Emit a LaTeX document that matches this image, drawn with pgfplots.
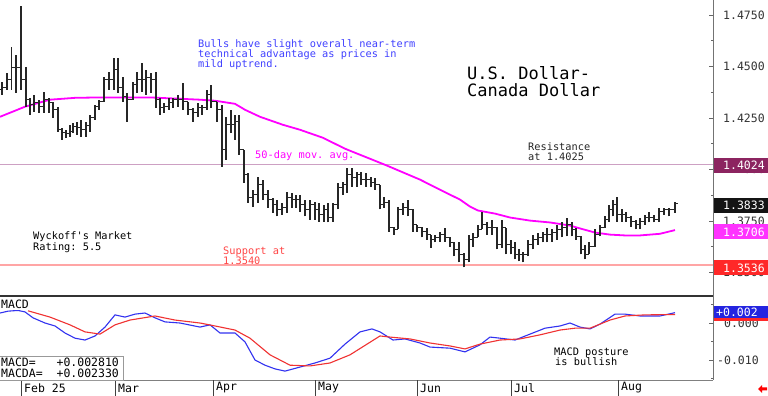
\documentclass[border=0pt]{standalone}
\usepackage{fontspec}
\setmonofont{DejaVu Sans Mono}
\renewcommand{\familydefault}{\ttdefault}
\usepackage{pgfplots}
\usepackage{pgfplotstable}
\pgfplotsset{compat=1.18}
\definecolor{annblue}{RGB}{64,64,255}
\definecolor{mamag}{RGB}{255,0,255}
\definecolor{resline}{RGB}{205,160,195}
\definecolor{supline}{RGB}{255,165,165}
\definecolor{boxmaroon}{RGB}{140,36,96}
\definecolor{boxmag}{RGB}{255,51,255}
\definecolor{boxred}{RGB}{255,40,40}
\definecolor{boxblue}{RGB}{36,36,224}
\definecolor{macdblue}{RGB}{50,50,240}
\definecolor{macdred}{RGB}{240,50,50}
\definecolor{supred}{RGB}{255,70,70}
\newcommand{\fA}{\fontsize{10.3}{12}\selectfont}
\newcommand{\fB}{\fontsize{11.5}{13}\selectfont}
\newcommand{\fT}{\fontsize{17}{20}\selectfont}
\pgfdeclareplotmark{openT}{\pgfpathmoveto{\pgfqpoint{-2.6pt}{0pt}}\pgfpathlineto{\pgfqpoint{0pt}{0pt}}\pgfusepathqstroke}
\pgfdeclareplotmark{closeT}{\pgfpathmoveto{\pgfqpoint{0pt}{0pt}}\pgfpathlineto{\pgfqpoint{2.6pt}{0pt}}\pgfusepathqstroke}

\pgfplotstableread{
x o h l c
2 1.4387 1.4426 1.4363 1.4397
7 1.4397 1.4469 1.4387 1.4435
11.5 1.4435 1.4595 1.4387 1.4494
16 1.4494 1.4557 1.4372 1.4494
21 1.4494 1.4794 1.4387 1.4435
26 1.4435 1.4498 1.4305 1.4339
30 1.4339 1.4348 1.4266 1.4314
34 1.4314 1.4363 1.4280 1.4324
39 1.4324 1.4339 1.4276 1.4305
44 1.4305 1.4377 1.4276 1.4339
49 1.4339 1.4348 1.4276 1.4324
53 1.4324 1.4329 1.4251 1.4290
58 1.4290 1.4305 1.4183 1.4193
62 1.4193 1.4203 1.4145 1.4179
66 1.4179 1.4193 1.4154 1.4174
70 1.4174 1.4217 1.4159 1.4183
73 1.4183 1.4227 1.4179 1.4208
77 1.4208 1.4232 1.4169 1.4203
81 1.4203 1.4242 1.4159 1.4193
86 1.4193 1.4232 1.4159 1.4213
90 1.4213 1.4266 1.4183 1.4251
95 1.4251 1.4314 1.4242 1.4305
99 1.4305 1.4339 1.4290 1.4329
104 1.4329 1.4450 1.4329 1.4435
109 1.4435 1.4474 1.4387 1.4435
114 1.4435 1.4542 1.4387 1.4484
118 1.4484 1.4542 1.4372 1.4397
123 1.4397 1.4450 1.4329 1.4353
127 1.4353 1.4372 1.4232 1.4339
133 1.4339 1.4426 1.4339 1.4411
137 1.4411 1.4474 1.4372 1.4435
142 1.4435 1.4518 1.4377 1.4435
146 1.4435 1.4484 1.4363 1.4445
151 1.4445 1.4469 1.4372 1.4435
156 1.4435 1.4474 1.4300 1.4339
160 1.4339 1.4348 1.4266 1.4300
164 1.4300 1.4324 1.4276 1.4305
169 1.4305 1.4348 1.4290 1.4324
173 1.4324 1.4348 1.4300 1.4339
178 1.4339 1.4363 1.4305 1.4339
183 1.4339 1.4421 1.4290 1.4329
188 1.4329 1.4329 1.4266 1.4290
193 1.4290 1.4300 1.4232 1.4276
198 1.4276 1.4324 1.4256 1.4300
202 1.4300 1.4314 1.4266 1.4300
207 1.4300 1.4387 1.4290 1.4363
211 1.4363 1.4411 1.4300 1.4329
217 1.4329 1.4329 1.4232 1.4290
222 1.4290 1.4314 1.4014 1.4096
226 1.4096 1.4256 1.4048 1.4217
231 1.4217 1.4290 1.4179 1.4217
235 1.4217 1.4266 1.4145 1.4232
239 1.4232 1.4266 1.4072 1.4096
244 1.4096 1.4096 1.3936 1.3975
248 1.3975 1.3985 1.3839 1.3864
253 1.3864 1.3902 1.3820 1.3878
258 1.3878 1.3965 1.3839 1.3927
263 1.3927 1.3951 1.3854 1.3878
268 1.3878 1.3902 1.3815 1.3854
273 1.3854 1.3864 1.3791 1.3830
277 1.3830 1.3854 1.3772 1.3806
282 1.3806 1.3839 1.3781 1.3815
287 1.3815 1.3893 1.3791 1.3864
292 1.3864 1.3888 1.3815 1.3854
296 1.3854 1.3878 1.3815 1.3854
300 1.3854 1.3878 1.3796 1.3830
305 1.3830 1.3854 1.3772 1.3806
310 1.3806 1.3854 1.3757 1.3830
315 1.3830 1.3844 1.3757 1.3806
319 1.3806 1.3839 1.3747 1.3781
324 1.3781 1.3830 1.3747 1.3806
328 1.3806 1.3839 1.3743 1.3767
333 1.3767 1.3839 1.3747 1.3830
338 1.3830 1.3936 1.3806 1.3912
343 1.3912 1.3941 1.3878 1.3927
347 1.3927 1.4009 1.3888 1.3975
352 1.3975 1.4009 1.3917 1.3961
357 1.3961 1.3990 1.3917 1.3975
361 1.3975 1.3990 1.3927 1.3951
366 1.3951 1.3985 1.3917 1.3951
371 1.3951 1.3965 1.3917 1.3936
375 1.3936 1.3961 1.3902 1.3927
380 1.3927 1.3927 1.3806 1.3830
384 1.3830 1.3869 1.3815 1.3839
389 1.3839 1.3854 1.3699 1.3718
394 1.3718 1.3723 1.3684 1.3709
398 1.3709 1.3820 1.3709 1.3806
403 1.3806 1.3839 1.3781 1.3815
408 1.3815 1.3854 1.3772 1.3806
413 1.3806 1.3806 1.3699 1.3733
417 1.3733 1.3733 1.3699 1.3718
422 1.3718 1.3723 1.3670 1.3699
427 1.3699 1.3718 1.3660 1.3684
431 1.3684 1.3684 1.3621 1.3660
435 1.3660 1.3684 1.3646 1.3670
440 1.3670 1.3699 1.3650 1.3684
445 1.3684 1.3718 1.3650 1.3670
450 1.3670 1.3670 1.3626 1.3646
454 1.3646 1.3646 1.3578 1.3612
459 1.3612 1.3646 1.3549 1.3588
464 1.3588 1.3597 1.3525 1.3564
469 1.3564 1.3684 1.3549 1.3660
473 1.3660 1.3694 1.3626 1.3670
478 1.3670 1.3733 1.3670 1.3709
482 1.3709 1.3796 1.3709 1.3733
487 1.3733 1.3743 1.3684 1.3718
492 1.3718 1.3757 1.3684 1.3718
497 1.3718 1.3723 1.3612 1.3636
502 1.3636 1.3757 1.3621 1.3718
506 1.3718 1.3718 1.3588 1.3636
511 1.3636 1.3660 1.3588 1.3621
515 1.3621 1.3646 1.3564 1.3588
519 1.3588 1.3612 1.3554 1.3588
523 1.3588 1.3602 1.3549 1.3588
528 1.3588 1.3660 1.3578 1.3636
533 1.3636 1.3684 1.3612 1.3660
538 1.3660 1.3694 1.3636 1.3670
543 1.3670 1.3699 1.3646 1.3684
547 1.3684 1.3718 1.3646 1.3684
552 1.3684 1.3709 1.3650 1.3694
557 1.3694 1.3733 1.3660 1.3709
562 1.3709 1.3747 1.3670 1.3718
567 1.3718 1.3767 1.3675 1.3733
572 1.3733 1.3747 1.3675 1.3709
576 1.3709 1.3718 1.3660 1.3675
581 1.3675 1.3675 1.3588 1.3612
585 1.3612 1.3636 1.3564 1.3588
589 1.3588 1.3646 1.3588 1.3626
595 1.3626 1.3709 1.3626 1.3684
600 1.3684 1.3733 1.3675 1.3718
605 1.3718 1.3772 1.3718 1.3757
609 1.3757 1.3830 1.3747 1.3806
613 1.3806 1.3854 1.3772 1.3830
617 1.3830 1.3869 1.3747 1.3781
622 1.3781 1.3806 1.3747 1.3781
626 1.3781 1.3796 1.3747 1.3767
631 1.3767 1.3772 1.3723 1.3747
636 1.3747 1.3757 1.3709 1.3733
640 1.3733 1.3767 1.3709 1.3747
645 1.3747 1.3781 1.3733 1.3767
649 1.3767 1.3796 1.3743 1.3767
654 1.3767 1.3781 1.3743 1.3757
659 1.3757 1.3815 1.3747 1.3796
664 1.3796 1.3815 1.3781 1.3806
669 1.3806 1.3815 1.3772 1.3806
675 1.3806 1.3840 1.3791 1.3833
}\ohlc

\pgfplotstableread{
x y
0 1.4256
25 1.4305
50 1.4339
75 1.4348
100 1.4350
150 1.4350
200 1.4339
215 1.4334
235 1.4319
245 1.4290
260 1.4256
283 1.4217
300 1.4193
323 1.4154
345 1.4101
365 1.4062
387 1.4019
420 1.3951
440 1.3902
460 1.3854
470 1.3820
478 1.3801
495 1.3786
510 1.3767
530 1.3752
550 1.3743
570 1.3728
580 1.3714
595 1.3694
610 1.3684
625 1.3680
640 1.3680
660 1.3688
675 1.3706
}\mavg

\pgfplotstableread{
x y
0 0.0027
8 0.0032
18 0.0034
25 0.0030
33 0.0014
45 0.0000
55 -0.0008
65 -0.0027
75 -0.0041
85 -0.0046
95 -0.0035
105 -0.0011
115 0.0022
125 0.0016
135 0.0024
145 0.0027
155 0.0014
165 0.0003
180 0.0000
200 -0.0011
210 -0.0005
220 -0.0027
235 -0.0027
245 -0.0051
255 -0.0100
265 -0.0114
275 -0.0124
285 -0.0130
300 -0.0119
315 -0.0108
330 -0.0095
345 -0.0057
360 -0.0024
372 -0.0016
380 -0.0024
393 -0.0046
405 -0.0043
420 -0.0054
430 -0.0065
450 -0.0068
465 -0.0078
480 -0.0059
490 -0.0038
500 -0.0041
515 -0.0046
530 -0.0030
545 -0.0014
560 -0.0008
570 0.0000
580 -0.0011
590 -0.0016
600 -0.0003
615 0.0024
625 0.0024
640 0.0019
660 0.0019
675 0.0028
}\macdb

\pgfplotstableread{
x y
28 0.0033
50 0.0016
70 -0.0005
85 -0.0024
100 -0.0030
115 -0.0005
130 0.0008
155 0.0019
175 0.0008
200 0.0000
215 -0.0008
235 -0.0019
250 -0.0041
270 -0.0086
290 -0.0114
310 -0.0116
330 -0.0108
350 -0.0086
380 -0.0035
390 -0.0038
410 -0.0043
430 -0.0054
450 -0.0062
465 -0.0070
480 -0.0057
500 -0.0046
520 -0.0043
540 -0.0032
560 -0.0019
575 -0.0014
590 -0.0014
610 0.0008
625 0.0019
645 0.0022
675 0.0023
}\macdr

\begin{document}
\begin{tikzpicture}[x=1pt,y=1pt]
\useasboundingbox (0,0) rectangle (768,396);
\fill[white] (0,0) rectangle (768,396);
% ---------- price panel ----------
\begin{axis}[at={(0pt,100pt)}, anchor=south west, width=713pt, height=296pt, scale only axis,
  xmin=0, xmax=713, ymin=1.3386, ymax=1.4823,
  axis x line*=bottom, axis y line*=right,
  axis line style={-},
  x axis line style={black!80, line width=1.5pt},
  y axis line style={black!55, line width=0.8pt},
  xtick=\empty,
  ytick={1.35,1.375,1.4,1.425,1.45,1.475},
  yticklabels={1.3500,1.3750,1.4000,1.4250,1.4500,1.4750},
  minor ytick={1.3625,1.3875,1.4125,1.4375,1.4625},
  scaled y ticks=false,
  tick align=inside, major tick length=4pt, minor tick length=2.5pt,
  ytick style={black!60, line width=0.6pt},
  yticklabel style={anchor=west, inner sep=0pt, xshift=10pt, font=\fB, text=black!80},
  clip=true]
\addplot[resline, line width=1.6pt] coordinates {(0,1.4024) (713,1.4024)};
\addplot[supline, line width=1.6pt] coordinates {(0,1.3536) (713,1.3536)};
\addplot[mamag, line width=1.8pt, line join=round] table[x=x,y=y] {\mavg};
\addplot[draw=none, mark=none, error bars/.cd, y dir=plus, y explicit, error mark=none,
  error bar style={draw=black!85, line width=1.3pt}]
  table[x=x, y=l, y error expr=\thisrow{h}-\thisrow{l}] {\ohlc};
\addplot[only marks, mark=openT, mark options={draw=black!85, line width=0.9pt}] table[x=x,y=o] {\ohlc};
\addplot[only marks, mark=closeT, mark options={draw=black!85, line width=0.9pt}] table[x=x,y=c] {\ohlc};
\end{axis}
% ---------- MACD panel ----------
\begin{axis}[at={(0pt,16pt)}, anchor=south west, width=713pt, height=84pt, scale only axis,
  xmin=0, xmax=713, ymin=-0.0154, ymax=0.0073,
  axis x line*=bottom, axis y line*=right,
  axis line style={-},
  x axis line style={black!50, line width=0.9pt},
  y axis line style={black!55, line width=0.8pt},
  xtick=\empty,
  extra x ticks={21,115,213,315,417,511,618},
  extra x tick labels={Feb 25,Mar,Apr,May,Jun,Jul,Aug},
  extra x tick style={tick align=outside, major tick length=16pt,
     tick style={black!75, line width=0.8pt},
     tick label style={anchor=west, inner sep=0pt, xshift=3pt, yshift=8pt, font=\fB, text=black}},
  ytick={-0.01,0}, yticklabels={-0.010,\hphantom{-}0.000},
  minor ytick={-0.015,-0.005,0.005},
  scaled y ticks=false,
  tick align=inside, major tick length=4pt, minor tick length=2.5pt,
  ytick style={black!60, line width=0.6pt},
  yticklabel style={anchor=west, inner sep=0pt, xshift=4pt, font=\fB, text=black!80},
  clip=true]
\addplot[macdblue, line width=1.1pt, line join=round] table[x=x,y=y] {\macdb};
\addplot[macdred, line width=1.1pt, line join=round] table[x=x,y=y] {\macdr};
\end{axis}
% ---------- annotations ----------
\node[anchor=base west, inner sep=0, text=annblue, font=\fA] at (198,348.3) {Bulls have slight overall near-term};
\node[anchor=base west, inner sep=0, text=annblue, font=\fA] at (198,338) {technical advantage as prices in};
\node[anchor=base west, inner sep=0, text=annblue, font=\fA] at (198,328) {mild uptrend.};
\node[anchor=base west, inner sep=0, font=\fT] at (467,316.5) {U.S. Dollar-};
\node[anchor=base west, inner sep=0, font=\fT] at (467,299.8) {Canada Dollar};
\node[anchor=base west, inner sep=0, font=\fA, text=black!85] at (528,245.6) {Resistance};
\node[anchor=base west, inner sep=0, font=\fA, text=black!85] at (528,235) {at 1.4025};
\node[anchor=base west, inner sep=0, font=\fA, text=mamag] at (255,237.3) {50-day mov. avg.};
\node[anchor=base west, inner sep=0, font=\fA] at (33,156.6) {Wyckoff's Market};
\node[anchor=base west, inner sep=0, font=\fA] at (33,145.6) {Rating: 5.5};
\node[anchor=base west, inner sep=0, font=\fA, text=supred] at (223,141.6) {Support at};
\node[anchor=base west, inner sep=0, font=\fA, text=supred] at (223,131.6) {1.3540};
\node[anchor=base west, inner sep=1pt, fill=white, font=\fB] at (0,87) {MACD};
\node[anchor=base west, inner sep=0, font=\fA] at (554,40.6) {MACD posture};
\node[anchor=base west, inner sep=0, font=\fA] at (555,30.6) {is bullish};
\draw[black!40, fill=white, line width=0.8pt] (-1,15.5) rectangle (123,39.5);
\node[anchor=base west, inner sep=0, font=\fB] at (1,29.8) {MACD=\ \ \ +0.002810};
\node[anchor=base west, inner sep=0, font=\fB] at (1,18.4) {MACDA=\ \ +0.002330};
% ---------- right value boxes ----------
\fill[boxmaroon] (714,223) rectangle (768,238);
\node[anchor=base west, inner sep=0, font=\fB, text=white] at (723,226.3) {1.4024};
\fill[black!92] (714,183) rectangle (768,198);
\node[anchor=base west, inner sep=0, font=\fB, text=white] at (723,186.3) {1.3833};
\fill[boxmag] (714,156.5) rectangle (768,171.5);
\node[anchor=base west, inner sep=0, font=\fB, text=white] at (723,159.8) {1.3706};
\fill[boxred] (714,120.5) rectangle (768,135.5);
\node[anchor=base west, inner sep=0, font=\fB, text=white] at (723,123.8) {1.3536};
\fill[boxblue] (714,77.5) rectangle (768,89.5);
\fill[boxred] (714,75) rectangle (768,77.5);
\node[anchor=base west, inner sep=0, font=\fB, text=white] at (716,79.3) {+0.002};
\fill[red] (758,7) -- (762,11) -- (762,8.5) -- (767,8.5) -- (767,5.5) -- (762,5.5) -- (762,3) -- cycle;
\end{tikzpicture}
\end{document}
